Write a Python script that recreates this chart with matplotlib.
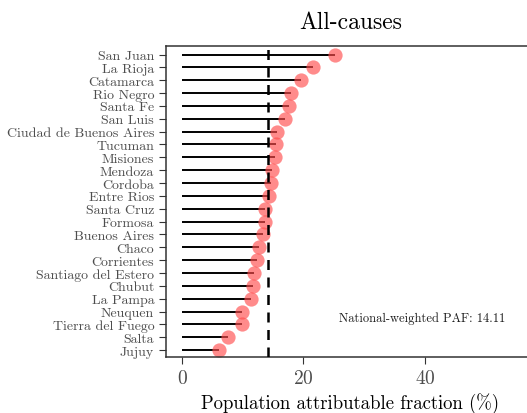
import matplotlib
matplotlib.use("Agg")
from matplotlib import pyplot as plt

provinces = ["San Juan", "La Rioja", "Catamarca", "Rio Negro", "Santa Fe", "San Luis",
             "Ciudad de Buenos Aires", "Tucuman", "Misiones", "Mendoza", "Cordoba",
             "Entre Rios", "Santa Cruz", "Formosa", "Buenos Aires", "Chaco", "Corrientes",
             "Santiago del Estero", "Chubut", "La Pampa", "Neuquen", "Tierra del Fuego",
             "Salta", "Jujuy"]
paf = [25.2, 21.6, 19.6, 17.9, 17.6, 17.0, 15.7, 15.5, 15.3, 14.9, 14.6, 14.4,
       13.7, 13.7, 13.3, 12.7, 12.3, 11.9, 11.7, 11.4, 9.9, 9.8, 7.5, 6.1]
national_paf = 14.11

plt.rcParams["font.family"] = "cmr10"
plt.rcParams["axes.formatter.use_mathtext"] = True

fig = plt.figure(figsize=(5.27, 4.14), dpi=100)
ax = fig.add_axes([0.315, 0.135, 0.70, 0.751])

ypos = list(range(len(provinces)))[::-1]
ax.hlines(ypos, 0, paf, color="black", lw=1.4, zorder=1)
ax.scatter(paf, ypos, s=105, color="#ff4d4d", alpha=0.65, lw=0, zorder=2)
ax.axvline(national_paf, color="black", ls=(0, (4, 3)), lw=1.8, zorder=3)
ax.text(39.5, 2.5, "National-weighted PAF: %.2f" % national_paf, fontsize=9,
        ha="center", va="center", color="#1a1a1a")

ax.set_yticks(ypos)
ax.set_yticklabels(provinces, fontsize=10, color="#4d4d4d")
ax.set_xticks([0, 20, 40])
ax.tick_params(axis="x", labelsize=14, labelcolor="#4d4d4d", color="#333333", length=5)
ax.tick_params(axis="y", color="#333333", length=5)
ax.set_xlim(-2.63, 58.1)
ax.set_ylim(-0.55, len(provinces) - 0.35)
ax.set_xlabel("Population attributable fraction (%)", fontsize=13.5, labelpad=4)
ax.set_title("All-causes", fontsize=17, pad=13)
for side in ["left", "bottom", "top", "right"]:
    ax.spines[side].set_color("#333333")
    ax.spines[side].set_linewidth(1.1)

fig.savefig("out.png", dpi=100)
